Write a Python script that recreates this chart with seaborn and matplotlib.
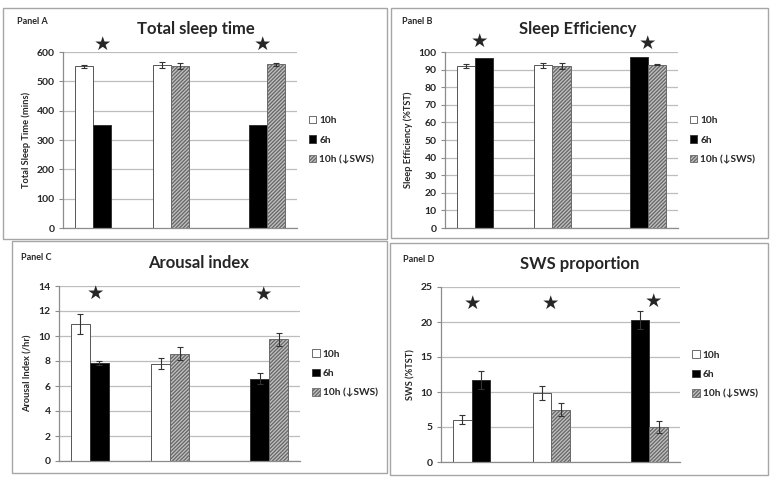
import pandas as pd
import matplotlib
matplotlib.use("Agg")
import matplotlib.pyplot as plt
from matplotlib.patches import Patch, Rectangle
import seaborn as sns

# bar layout shared by all panels: which group / slot / condition each bar is
groups = ["g1", "g2", "g3"]
slots = ["s0", "s1", "s2"]
bar_group = ["g1", "g1", "g2", "g2", "g3", "g3"]
bar_slot = ["s0", "s1", "s0", "s1", "s1", "s2"]
bar_cond = ["10h", "6h", "10h", "10h (↓SWS)", "6h", "10h (↓SWS)"]
conditions = ["10h", "6h", "10h (↓SWS)"]

# Panel A - total sleep time (mins)
tst_mean = [552, 352, 555, 553, 352, 558]
tst_err = [5, 0, 10, 10, 0, 5]
# Panel B - sleep efficiency (%TST)
se_mean = [92.0, 96.4, 92.4, 92.0, 97.0, 92.8]
se_err = [1.1, 0, 1.6, 1.5, 0, 0.4]
# Panel C - arousal index (/hr)
ai_mean = [11.0, 7.87, 7.8, 8.6, 6.6, 9.73]
ai_err = [0.8, 0.15, 0.42, 0.55, 0.45, 0.5]
# Panel D - SWS proportion (%TST)
sws_mean = [6.05, 11.75, 9.85, 7.5, 20.3, 5.0]
sws_err = [0.62, 1.3, 1.0, 0.95, 1.25, 0.85]

# significance stars (x in category units, y in data units)
star_a_x, star_a_y = [0.0, 2.06], [627, 626]
star_b_x, star_b_y = [-0.06, 2.11], [106, 105]
star_c_x, star_c_y = [-0.04, 2.05], [13.4, 13.3]
star_d_x, star_d_y = [-0.11, 0.88, 2.17], [22.6, 22.6, 23.0]

sns.set_theme(style="white")
plt.rcParams["font.family"] = ["Lato", "DejaVu Sans"]

STYLE = {
    "10h": dict(facecolor="white", edgecolor="#555555", hatch=None),
    "6h": dict(facecolor="black", edgecolor="#333333", hatch=None),
    "10h (↓SWS)": dict(facecolor="#c4c4c4", edgecolor="#6a6a6a", hatch="/////////"),
}
GRID = "#bdbdbd"
BOX = "#a6a6a6"


def draw_panel(ax, means, errs, ylim, step, ylabel, title, star_x, star_y, title_x):
    df = pd.DataFrame({"group": bar_group, "slot": bar_slot, "cond": bar_cond,
                       "value": means, "err": errs})
    sns.barplot(data=df, x="group", y="value", hue="slot", order=groups,
                hue_order=slots, width=0.7, errorbar=None, legend=False,
                ax=ax, zorder=2)
    lookup = {(g, s): i for i, (g, s) in enumerate(zip(bar_group, bar_slot))}
    for cont, slot in zip(ax.containers, [s for s in slots if s in bar_slot]):
        for bar in cont:
            cx = bar.get_x() + bar.get_width() / 2
            g = groups[int(round(cx))]
            idx = lookup.get((g, slot))
            if idx is None:
                continue
            st = STYLE[bar_cond[idx]]
            bar.set_facecolor(st["facecolor"])
            bar.set_edgecolor(st["edgecolor"])
            bar.set_linewidth(0.7)
            if st["hatch"]:
                bar.set_hatch(st["hatch"])
            if errs[idx] > 0:
                ax.errorbar(cx, means[idx], yerr=errs[idx], fmt="none",
                            ecolor="#333333", elinewidth=0.8, capsize=2.2,
                            capthick=0.8, zorder=3)

    ax.set_ylim(*ylim)
    ax.set_yticks([ylim[0] + step * i for i in range(int(round((ylim[1] - ylim[0]) / step)) + 1)])
    ax.set_xlim(-0.5, 2.5)
    ax.set_xticks([])
    ax.set_xlabel("")
    ax.set_ylabel(ylabel, fontsize=6.7, fontweight="bold", labelpad=4)
    ax.yaxis.grid(True, color=GRID, linewidth=0.9, zorder=0)
    ax.set_axisbelow(True)
    for side in ["top", "right"]:
        ax.spines[side].set_visible(False)
    for side in ["left", "bottom"]:
        ax.spines[side].set_color("#8c8c8c")
        ax.spines[side].set_linewidth(0.9)
    ax.tick_params(axis="y", length=3, width=0.8, color="#8c8c8c", pad=3,
                   labelsize=7.5, left=True)
    for lab in ax.get_yticklabels():
        lab.set_fontweight("bold")

    for sx, sy in zip(star_x, star_y):
        ax.text(sx, sy, "★", ha="center", va="center", fontsize=14,
                family=["DejaVu Sans"], clip_on=False)

    handles = [Patch(facecolor=STYLE[c]["facecolor"], edgecolor=STYLE[c]["edgecolor"],
                     hatch=STYLE[c]["hatch"], linewidth=0.6, label=c) for c in conditions]
    ax.legend(handles=handles, loc="center left", bbox_to_anchor=(1.05, 0.5),
              frameon=False, handlelength=0.75, handleheight=0.75,
              handletextpad=0.3, labelspacing=1.0, borderaxespad=0, borderpad=0,
              prop={"weight": "bold", "size": 7.3})

    fig = ax.figure
    pos = ax.get_position()
    fig.text(title_x, pos.y1 + 0.047, title, ha="center", va="center",
             fontsize=12, fontweight="bold")


fig = plt.figure(figsize=(7.78, 4.83), dpi=100)
W, H = 778, 483


def fpos(x0, y0, x1, y1):
    return [x0 / W, 1 - y1 / H, (x1 - x0) / W, (y1 - y0) / H]


# panel frames
for (x0, y0, x1, y1) in [(3, 8, 387, 239), (391, 8, 768, 238),
                         (12, 241, 387, 473), (390, 243, 768, 475)]:
    fig.add_artist(Rectangle((x0 / W, 1 - y1 / H), (x1 - x0) / W, (y1 - y0) / H,
                             transform=fig.transFigure, fill=False,
                             edgecolor=BOX, linewidth=1.0))

axA = fig.add_axes(fpos(63, 52, 297, 228))
axB = fig.add_axes(fpos(445, 52, 678, 228))
axC = fig.add_axes(fpos(59, 286, 300, 461))
axD = fig.add_axes(fpos(441, 287, 680, 462))

draw_panel(axA, tst_mean, tst_err, (0, 600), 100, "Total Sleep Time (mins)",
           "Total sleep time", star_a_x, star_a_y, 196 / W)
draw_panel(axB, se_mean, se_err, (0, 100), 10, "Sleep Efficiency (%TST)",
           "Sleep Efficiency", star_b_x, star_b_y, 578 / W)
draw_panel(axC, ai_mean, ai_err, (0, 14), 2, "Arousal Index (/hr)",
           "Arousal index", star_c_x, star_c_y, 199 / W)
draw_panel(axD, sws_mean, sws_err, (0, 25), 5, "SWS (%TST)",
           "SWS proportion", star_d_x, star_d_y, 580 / W)

# small "Panel X" labels
for label, x, y in [("Panel A", 17, 22), ("Panel B", 402, 22),
                    ("Panel C", 21, 258), ("Panel D", 403, 259)]:
    fig.text(x / W, 1 - y / H, label, ha="left", va="center",
             fontsize=6.5, fontweight="bold")

fig.savefig("out.png", dpi=100)
